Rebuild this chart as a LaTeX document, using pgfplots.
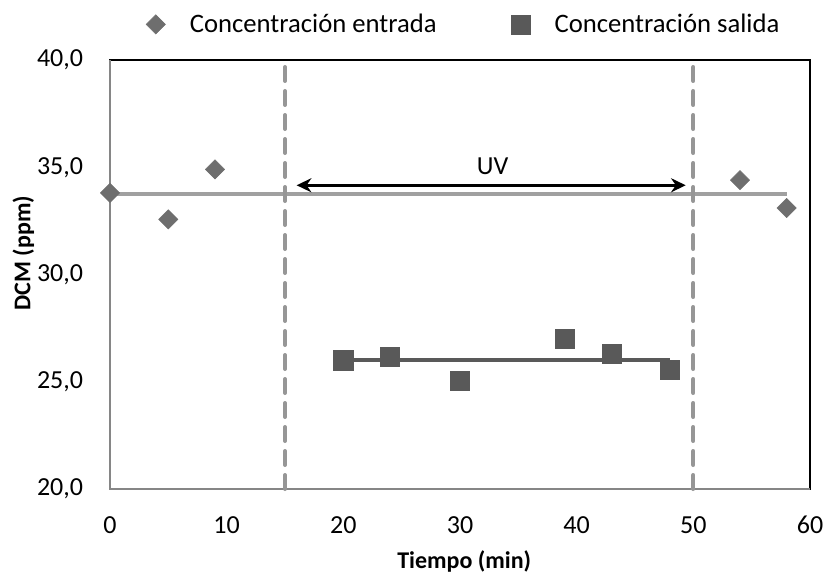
\documentclass[border=0pt]{standalone}
\usepackage{fontspec}
\setmainfont{Carlito}
\usepackage{pgfplots}
\pgfplotsset{compat=1.18}
\usetikzlibrary{arrows.meta}
\definecolor{entr}{RGB}{110,110,110}
\definecolor{sal}{RGB}{89,89,89}
\definecolor{trendA}{RGB}{160,160,160}
\definecolor{dashc}{RGB}{150,150,150}
\definecolor{axgray}{RGB}{134,134,134}
\begin{document}
\begin{tikzpicture}
\useasboundingbox (-82.5pt,-65.25pt) rectangle (537pt,366.75pt);
\begin{axis}[
  at={(0pt,0pt)}, anchor=south west,
  scale only axis, width=525pt, height=321.75pt,
  xmin=0, xmax=60, ymin=20, ymax=40,
  xtick={0,10,...,60}, ytick={20,25,...,40},
  major tick length=0pt,
  axis line style={black, line width=0.9pt},
  font=\fontsize{19.5}{23}\selectfont,
  xticklabel style={anchor=center, yshift=-27pt, /pgf/number format/assume math mode=true},
  yticklabel style={anchor=east, inner sep=0pt, xshift=-20pt, /pgf/number format/.cd, fixed, fixed zerofill, precision=1, use comma, assume math mode=true},
  xlabel={\fontsize{18}{21}\selectfont\bfseries Tiempo (min)},
  ylabel={\fontsize{18}{21}\selectfont\bfseries DCM (ppm)},
  xlabel style={at={(rel axis cs:0.506,-0.170)}, anchor=center},
  ylabel style={at={(rel axis cs:-0.1236,0.55)}, anchor=center},
  clip=false,
  legend columns=2,
  legend image code/.code={\path[draw=none,fill=none] (0pt,-1pt) rectangle (33.5pt,1pt);
    \path[#1] plot[only marks] coordinates {(10pt,0pt)};},
  legend style={draw=none, fill=none, inner sep=0pt, at={(rel axis cs:0.046,1.083)}, anchor=west,
    font=\fontsize{20}{23}\selectfont,
    /tikz/every even column/.append style={column sep=51pt}},
]
% axis lines gray (left, bottom)
\draw[axgray, line width=1.2pt] (rel axis cs:0,1) -- (rel axis cs:0,0) -- (rel axis cs:1,0);
% entrada points
\addplot[only marks, mark=square*, mark size=5.1pt, mark options={rotate=45, fill=entr, draw=entr}] coordinates {
  (0,33.8) (5,32.57) (9,34.9) (54,34.4) (58,33.1)};
\addlegendentry{Concentración entrada}
\addplot[only marks, mark=square*, mark size=7.2pt, mark options={fill=sal, draw=sal}] coordinates {
  (20,26.0) (24,26.15) (30,25.05) (39,27.0) (43,26.3) (48,25.55)};
\addlegendentry{Concentración salida}
% trend lines
\addplot[trendA, line width=3pt, forget plot] coordinates {(0,33.75) (58,33.75)};
\addplot[sal, line width=3pt, forget plot] coordinates {(20,26.0) (48,26.0)};
% redraw salida marks on top
\addplot[only marks, mark=square*, mark size=7.2pt, mark options={fill=sal, draw=sal}, forget plot] coordinates {
  (20,26.0) (24,26.15) (30,25.05) (39,27.0) (43,26.3) (48,25.55)};
% UV limits
\addplot[dashc, line width=3pt, line cap=round, dash pattern=on 10.5pt off 7.5pt, forget plot] coordinates {(15,20) (15,40)};
\addplot[dashc, line width=3pt, line cap=round, dash pattern=on 10.5pt off 7.5pt, forget plot] coordinates {(50,20) (50,40)};
% arrow
\addplot[black, line width=2.25pt, {Stealth[length=11pt,width=10.5pt]}-{Stealth[length=11pt,width=10.5pt]}, forget plot] coordinates {(16.0,34.16) (49.35,34.16)};
\node[font=\fontsize{19.5}{23}\selectfont] at (axis cs:32.8,35.05) {UV};
\end{axis}
\end{tikzpicture}
\end{document}
